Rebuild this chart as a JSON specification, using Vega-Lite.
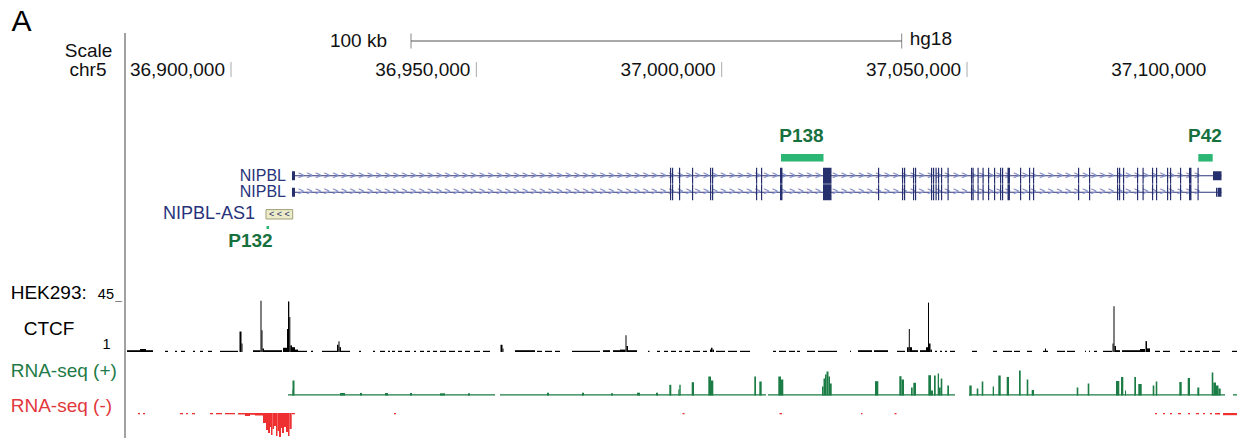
{
"$schema":"https://vega.github.io/schema/vega-lite/v6.json",
"width":1118,"height":438,"autosize":"none",
"padding":{"left":125,"top":0,"right":0,"bottom":0},
"background":"white",
"config":{"view":{"stroke":null},"font":"Liberation Sans","text":{"font":"Liberation Sans","fontSize":19,"color":"#111"}},
"datasets":{
"view":[{"chrom":"chr5","start":36878397,"end":37106245}],
"scalebar":[{"start":36936684,"end":37036684,"label":"100 kb","assembly":"hg18"}],
"ruler":[{"start":36900000,"label":"36,900,000"},{"start":36950000,"label":"36,950,000"},{"start":37000000,"label":"37,000,000"},{"start":37050000,"label":"37,050,000"},{"start":37100000,"label":"37,100,000"}],
"transcripts":[{"tx":"NM_133433","name":"NIPBL","start":36912432,"end":37101864},{"tx":"NM_015384","name":"NIPBL","start":36912432,"end":37101864}],
"exons":[
{"start":36989468,"end":36989708},{"start":36989876,"end":36990116},{"start":36991302,"end":36991542},{"start":36993952,"end":36994192},
{"start":36997620,"end":36997860},{"start":36998028,"end":36998268},{"start":37006995,"end":37007235},{"start":37008014,"end":37008254},
{"start":37011886,"end":37012386},{"start":37020649,"end":37022382},{"start":37031858,"end":37032098},{"start":37036750,"end":37036990},
{"start":37037157,"end":37037397},{"start":37038991,"end":37039231},{"start":37039399,"end":37039639},{"start":37042660,"end":37042900},
{"start":37043067,"end":37043307},{"start":37043577,"end":37043817},{"start":37044086,"end":37044326},{"start":37044698,"end":37044938},
{"start":37046023,"end":37046263},{"start":37050812,"end":37051052},{"start":37051118,"end":37051358},{"start":37052137,"end":37052377},
{"start":37053156,"end":37053396},{"start":37054276,"end":37054516},{"start":37055499,"end":37055739},{"start":37056722,"end":37056962},
{"start":37057130,"end":37057370},{"start":37058251,"end":37058751},{"start":37060798,"end":37061038},{"start":37062632,"end":37062872},
{"start":37063447,"end":37063687},{"start":37072618,"end":37072858},{"start":37074860,"end":37075100},{"start":37080567,"end":37080807},
{"start":37080974,"end":37081214},{"start":37081789,"end":37082029},{"start":37084643,"end":37084883},{"start":37085764,"end":37086004},
{"start":37087700,"end":37087940},{"start":37088515,"end":37088755},{"start":37090757,"end":37090997},{"start":37091368,"end":37091608},
{"start":37093406,"end":37093646},{"start":37095240,"end":37095740},{"start":37096973,"end":37097213}],
"utr":[
{"tx":"NM_133433","start":36912432,"end":36913043},{"tx":"NM_015384","start":36912432,"end":36913043},
{"tx":"NM_133433","start":37100131,"end":37101864},{"tx":"NM_015384","start":37100743,"end":37100983},{"tx":"NM_015384","start":37101058,"end":37101864}],
"as1":[{"name":"NIPBL-AS1","start":36907133,"end":36912574}],
"probes":[{"name":"P132","start":36907235,"end":36907744},{"name":"P138","start":37012090,"end":37020751},{"name":"P42","start":37097136,"end":37100070}],
"ctcf":[
{"start":36878805,"end":36881454,"value":2.5},{"start":36881454,"end":36882677,"value":3.5},{"start":36882677,"end":36884103,"value":2.5},
{"start":36886549,"end":36887160,"value":2},{"start":36888587,"end":36888995,"value":2},{"start":36889810,"end":36890625,"value":2},
{"start":36892255,"end":36892663,"value":2},{"start":36893682,"end":36894293,"value":2},{"start":36895312,"end":36896128,"value":2},
{"start":36897758,"end":36901426,"value":2},{"start":36901732,"end":36902140,"value":18},{"start":36902140,"end":36902344,"value":8},
{"start":36904483,"end":36906012,"value":2.5},{"start":36906012,"end":36906216,"value":43.5},{"start":36906216,"end":36906420,"value":19},
{"start":36906420,"end":36906725,"value":4},{"start":36906725,"end":36910394,"value":2.5},{"start":36910597,"end":36911413,"value":4.5},
{"start":36911413,"end":36911616,"value":20},{"start":36911616,"end":36911881,"value":43},{"start":36911881,"end":36912085,"value":30},
{"start":36912085,"end":36912432,"value":6.5},{"start":36912432,"end":36913043,"value":5},{"start":36913043,"end":36913654,"value":3},
{"start":36913654,"end":36915489,"value":2},{"start":36916304,"end":36916711,"value":2},{"start":36918546,"end":36921603,"value":2},
{"start":36921603,"end":36921908,"value":7},{"start":36921908,"end":36922112,"value":10},{"start":36922112,"end":36922418,"value":5},
{"start":36922418,"end":36924252,"value":2},{"start":36926086,"end":36926494,"value":2},{"start":36928939,"end":36929347,"value":2},
{"start":36930366,"end":36931385,"value":2},{"start":36931996,"end":36932404,"value":2},{"start":36932812,"end":36933423,"value":2},
{"start":36934034,"end":36934850,"value":2},{"start":36935461,"end":36936480,"value":2},{"start":36937295,"end":36937703,"value":2},
{"start":36938518,"end":36939333,"value":2},{"start":36939945,"end":36940556,"value":2},{"start":36941167,"end":36941983,"value":2},
{"start":36942594,"end":36943817,"value":2},{"start":36944428,"end":36945651,"value":2},{"start":36946262,"end":36947078,"value":2},
{"start":36947689,"end":36948708,"value":2},{"start":36949523,"end":36950746,"value":2},{"start":36951357,"end":36952784,"value":2},
{"start":36954924,"end":36955332,"value":7},{"start":36955332,"end":36955535,"value":4},{"start":36957879,"end":36961955,"value":2.5},
{"start":36962363,"end":36963382,"value":2},{"start":36963993,"end":36965420,"value":2},{"start":36966031,"end":36967050,"value":2},
{"start":36969496,"end":36975202,"value":2},{"start":36975813,"end":36977240,"value":2.5},{"start":36977851,"end":36979278,"value":2.5},
{"start":36979278,"end":36980399,"value":3},{"start":36980399,"end":36980603,"value":15},{"start":36980603,"end":36980908,"value":6},
{"start":36980908,"end":36982743,"value":2.5},{"start":36984984,"end":36985290,"value":2},{"start":36986819,"end":36987430,"value":2},
{"start":36988245,"end":36989060,"value":2},{"start":36989672,"end":36990691,"value":2},{"start":36991302,"end":36991914,"value":2},
{"start":36992525,"end":36993544,"value":2},{"start":36994155,"end":36995582,"value":2},{"start":36996193,"end":36997009,"value":2},
{"start":36997620,"end":36997824,"value":3},{"start":36997824,"end":36998130,"value":4.5},{"start":36998130,"end":36998435,"value":3},
{"start":36998843,"end":37000677,"value":2},{"start":37001288,"end":37003123,"value":2},{"start":37003734,"end":37005772,"value":2},
{"start":37010459,"end":37011071,"value":2},{"start":37011682,"end":37013109,"value":2},{"start":37013720,"end":37014943,"value":2},
{"start":37015351,"end":37015962,"value":2},{"start":37017389,"end":37019019,"value":2},{"start":37019630,"end":37023503,"value":2},
{"start":37026152,"end":37026356,"value":2},{"start":37027782,"end":37030636,"value":2.5},{"start":37031043,"end":37033896,"value":2.5},
{"start":37035731,"end":37037361,"value":2},{"start":37037769,"end":37038135,"value":5},{"start":37038135,"end":37038339,"value":20},
{"start":37038339,"end":37038788,"value":5},{"start":37038788,"end":37040010,"value":2.5},{"start":37040418,"end":37041641,"value":2.5},
{"start":37041641,"end":37042048,"value":5},{"start":37042048,"end":37042252,"value":42},{"start":37042252,"end":37042558,"value":8},
{"start":37042558,"end":37042864,"value":3},{"start":37043475,"end":37043883,"value":2},{"start":37044494,"end":37044902,"value":2},
{"start":37045513,"end":37045921,"value":2},{"start":37046532,"end":37047551,"value":2},{"start":37051016,"end":37052035,"value":2},
{"start":37055295,"end":37056111,"value":2},{"start":37057333,"end":37059168,"value":2},{"start":37059575,"end":37060798,"value":2},
{"start":37062225,"end":37063244,"value":2},{"start":37065485,"end":37065893,"value":2},{"start":37065893,"end":37066097,"value":4},
{"start":37066097,"end":37066504,"value":2},{"start":37068339,"end":37069969,"value":2},{"start":37070377,"end":37072007,"value":2},
{"start":37074045,"end":37074249,"value":2},{"start":37074860,"end":37075064,"value":2},{"start":37075879,"end":37076491,"value":2},
{"start":37077713,"end":37079548,"value":2},{"start":37079650,"end":37079853,"value":8},{"start":37079853,"end":37080057,"value":39},
{"start":37080057,"end":37080363,"value":6},{"start":37080363,"end":37081178,"value":2.5},{"start":37081586,"end":37085254,"value":2.5},
{"start":37085254,"end":37086273,"value":3.5},{"start":37086375,"end":37086681,"value":10},{"start":37086681,"end":37087292,"value":4},
{"start":37088311,"end":37089330,"value":2},{"start":37089941,"end":37091368,"value":2},{"start":37093406,"end":37094425,"value":2},
{"start":37095036,"end":37095852,"value":2},{"start":37096463,"end":37097482,"value":2},{"start":37098093,"end":37099316,"value":2},
{"start":37099928,"end":37101558,"value":2},{"start":37104004,"end":37105023,"value":2}],
"rnaPlus":[
{"start":36911616,"end":36953803,"value":1.3},{"start":36954822,"end":37009033,"value":1.3},{"start":37009440,"end":37047551,"value":1.3},
{"start":37050404,"end":37102577,"value":1.3},{"start":37104207,"end":37105023,"value":1.3},
{"start":36922214,"end":36923233,"value":2.5},{"start":36926290,"end":36926698,"value":2.5},{"start":36931385,"end":36931996,"value":2.5},
{"start":36936480,"end":36936888,"value":2.5},{"start":36942594,"end":36943613,"value":2.2},{"start":36948300,"end":36948708,"value":2.2},
{"start":36964401,"end":36964808,"value":2.8},{"start":36971534,"end":36971941,"value":2.8},{"start":36977444,"end":36977851,"value":2.2},
{"start":36982743,"end":36983354,"value":2.8},{"start":36986615,"end":36987022,"value":2.8},
{"start":36912432,"end":36912534,"value":6},{"start":36912534,"end":36912941,"value":15},{"start":36989325,"end":36989733,"value":10.7},
{"start":36991160,"end":36991363,"value":6},{"start":36991363,"end":36991649,"value":10.7},{"start":36993890,"end":36994359,"value":13.3},
{"start":36997274,"end":36997824,"value":19},{"start":36997824,"end":36998293,"value":15},{"start":37006648,"end":37006995,"value":19},
{"start":37007667,"end":37008156,"value":14},{"start":37011540,"end":37012090,"value":19},{"start":37012090,"end":37012559,"value":16},
{"start":37020446,"end":37020751,"value":9},{"start":37020751,"end":37021057,"value":17},{"start":37021057,"end":37021363,"value":21},
{"start":37021363,"end":37021770,"value":24},{"start":37021770,"end":37022076,"value":19},{"start":37022076,"end":37022422,"value":12},
{"start":37031247,"end":37031920,"value":14.3},{"start":37036199,"end":37036648,"value":19.3},{"start":37036648,"end":37037157,"value":16},
{"start":37038584,"end":37038930,"value":8},{"start":37039053,"end":37039603,"value":12.7},{"start":37042110,"end":37042660,"value":20.3},
{"start":37042660,"end":37043067,"value":5},{"start":37043271,"end":37043618,"value":20},{"start":37044025,"end":37044290,"value":22},
{"start":37044290,"end":37044637,"value":8},{"start":37044637,"end":37044963,"value":17},{"start":37045982,"end":37046328,"value":10},
{"start":37050465,"end":37050954,"value":10},{"start":37051973,"end":37052300,"value":7},{"start":37052992,"end":37053319,"value":14},
{"start":37055234,"end":37055499,"value":9},{"start":37056376,"end":37056865,"value":20},{"start":37058087,"end":37058556,"value":18.5},
{"start":37060594,"end":37060941,"value":25},{"start":37062163,"end":37062490,"value":16},{"start":37063182,"end":37063651,"value":5.5},
{"start":37072353,"end":37072680,"value":8},{"start":37074595,"end":37074921,"value":12},{"start":37080363,"end":37081035,"value":14.5},
{"start":37081382,"end":37081850,"value":18.5},{"start":37082197,"end":37082401,"value":5},{"start":37084092,"end":37084439,"value":18.5},
{"start":37084908,"end":37085601,"value":11.5},{"start":37087842,"end":37088168,"value":10},{"start":37088454,"end":37088780,"value":14},
{"start":37093263,"end":37093753,"value":13.5},{"start":37094975,"end":37095444,"value":17.5},{"start":37096932,"end":37097339,"value":8},
{"start":37099867,"end":37100193,"value":23},{"start":37100193,"end":37100743,"value":13},{"start":37100743,"end":37101252,"value":10},
{"start":37101252,"end":37101701,"value":7}],
"rnaMinus":[
{"start":36881046,"end":36881454,"value":-1.3},{"start":36882065,"end":36882473,"value":-1.3},{"start":36889606,"end":36890217,"value":-1.3},
{"start":36890829,"end":36891236,"value":-1.3},{"start":36892052,"end":36892663,"value":-1.3},{"start":36895720,"end":36896331,"value":-1.3},
{"start":36896943,"end":36898166,"value":-1.3},{"start":36898777,"end":36900815,"value":-1.3},{"start":36901426,"end":36902853,"value":-1.5},
{"start":36902853,"end":36903872,"value":-3},{"start":36903872,"end":36904891,"value":-1.8},{"start":36904891,"end":36906521,"value":-2.5},
{"start":36906521,"end":36907133,"value":-10},{"start":36907133,"end":36907540,"value":-17},{"start":36907540,"end":36907948,"value":-20},
{"start":36907948,"end":36908152,"value":-14},{"start":36908152,"end":36908458,"value":-22},{"start":36908458,"end":36908763,"value":-16},
{"start":36908763,"end":36909171,"value":-13},{"start":36909171,"end":36909477,"value":-23},{"start":36909477,"end":36909782,"value":-18},
{"start":36909782,"end":36910190,"value":-24},{"start":36910190,"end":36910394,"value":-15},{"start":36910394,"end":36910801,"value":-20},
{"start":36910801,"end":36911209,"value":-14},{"start":36911209,"end":36911616,"value":-19},{"start":36911616,"end":36911921,"value":-23},
{"start":36911921,"end":36912369,"value":-16},{"start":36912432,"end":36913043,"value":-1.3},{"start":36933219,"end":36933627,"value":-1.3},
{"start":36992016,"end":36992423,"value":-1.3},{"start":37011784,"end":37012294,"value":-1.3},{"start":37028394,"end":37028700,"value":-1.3},
{"start":37035221,"end":37035629,"value":-1.3},{"start":37088311,"end":37088719,"value":-1.3},{"start":37089941,"end":37090349,"value":-1.3},
{"start":37091368,"end":37091776,"value":-1.3},{"start":37092998,"end":37093610,"value":-1.3},{"start":37095036,"end":37095444,"value":-1.3},
{"start":37096667,"end":37097278,"value":-1.3},{"start":37098093,"end":37098501,"value":-1.3},{"start":37099520,"end":37099928,"value":-1.3},
{"start":37100539,"end":37101558,"value":-1.5},{"start":37102169,"end":37105023,"value":-2.2}]
},
"encoding":{"x":{"field":"start","type":"quantitative","scale":{"domain":[36878397,37106245],"nice":false,"zero":false},"axis":null}},
"resolve":{"scale":{"y":"independent"}},
"layer":[
{"data":{"name":"view"},"mark":{"type":"rule","color":"#444","strokeWidth":1},
 "encoding":{"y":{"datum":0,"type":"quantitative","scale":{"domain":[0,1],"range":[33,438]},"axis":null},"y2":{"datum":1}}},
{"layer":[
 {"data":{"name":"view"},"mark":{"type":"text","text":"A","fontSize":30,"align":"center","baseline":"middle","dx":-103.5,"color":"#000"},
  "encoding":{"y":{"datum":"panel","type":"nominal","scale":{"type":"point","domain":["panel","gap1","scalebar","name","gap2","coords"],"range":[22,69.5],"padding":0},"axis":null}}},
 {"data":{"name":"view"},"mark":{"type":"text","text":"Scale","align":"center","baseline":"middle","dx":-36.5},"encoding":{"y":{"datum":"name","type":"nominal","axis":null}}},
 {"data":{"name":"view"},"mark":{"type":"text","text":"chr5","align":"center","baseline":"middle","dx":-37},"encoding":{"y":{"datum":"coords","type":"nominal","axis":null}}},
 {"data":{"name":"scalebar"},"mark":{"type":"rule","color":"#555","strokeWidth":1},"encoding":{"x2":{"field":"end"},"y":{"datum":"scalebar","type":"nominal","axis":null}}},
 {"data":{"name":"scalebar"},"mark":{"type":"tick","color":"#555","size":15,"thickness":1},"encoding":{"y":{"datum":"scalebar","type":"nominal","axis":null}}},
 {"data":{"name":"scalebar"},"mark":{"type":"tick","color":"#555","size":15,"thickness":1},"encoding":{"x":{"field":"end","type":"quantitative","axis":null},"y":{"datum":"scalebar","type":"nominal","axis":null}}},
 {"data":{"name":"scalebar"},"mark":{"type":"text","align":"right","baseline":"middle","dx":-24},"encoding":{"text":{"field":"label","type":"nominal"},"y":{"datum":"scalebar","type":"nominal","axis":null}}},
 {"data":{"name":"scalebar"},"mark":{"type":"text","align":"left","baseline":"middle","dx":8,"dy":-2},"encoding":{"x":{"field":"end","type":"quantitative","axis":null},"text":{"field":"assembly","type":"nominal"},"y":{"datum":"scalebar","type":"nominal","axis":null}}},
 {"data":{"name":"ruler"},"transform":[{"filter":"datum.start < 37100000"}],"mark":{"type":"tick","color":"#888","size":15,"thickness":1},"encoding":{"y":{"datum":"coords","type":"nominal","axis":null}}},
 {"data":{"name":"ruler"},"mark":{"type":"text","align":"right","baseline":"middle","dx":-6},"encoding":{"text":{"field":"label","type":"nominal"},"y":{"datum":"coords","type":"nominal","axis":null}}}
]},
{"layer":[
 {"data":{"name":"probes"},"transform":[{"filter":"datum.name != 'P132'"}],"mark":{"type":"bar","size":7.5,"color":"#2cb673"},
  "encoding":{"x2":{"field":"end"},"y":{"datum":"bar","type":"nominal","scale":{"type":"point","domain":["label","bar"],"range":[136,157.8],"padding":0},"axis":null}}},
 {"data":{"name":"probes"},"transform":[{"filter":"datum.name == 'P138'"}],"mark":{"type":"text","align":"center","baseline":"middle","dx":20.5,"fontWeight":"bold","color":"#17713f"},
  "encoding":{"text":{"field":"name","type":"nominal"},"y":{"datum":"label","type":"nominal","axis":null}}},
 {"data":{"name":"probes"},"transform":[{"filter":"datum.name == 'P42'"}],"mark":{"type":"text","align":"center","baseline":"middle","dx":6.7,"fontWeight":"bold","color":"#17713f"},
  "encoding":{"text":{"field":"name","type":"nominal"},"y":{"datum":"label","type":"nominal","axis":null}}}
]},
{"layer":[
 {"data":{"name":"transcripts"},"mark":{"type":"rule","color":"#2b3478","strokeWidth":1},
  "encoding":{"x2":{"field":"end"},"y":{"field":"tx","type":"nominal","scale":{"type":"band","domain":["NM_133433","NM_015384"],"range":[167.5,200.5],"paddingInner":0.03,"paddingOuter":0.015},"axis":null}}},
 {"data":{"name":"transcripts"},"mark":{"type":"text","text":"> > > > > > > > > > > > > > > > > > > > > > > > > > > > > > > > > > > > > > > > > > > > > > > > > > > > > > > > > > > > > > > > > > > > > > > > > > > > > > > > > > > > > > > > > > > > > > > > > > > > > > > > > > > > > > > > > > > > > > > > > > >","font":"Liberation Sans","fontSize":10,"fontWeight":"bold","align":"left","baseline":"middle","dx":6,"color":"#8a90c8","limit":913,"ellipsis":" "},
  "encoding":{"y":{"field":"tx","type":"nominal","axis":null}}},
 {"data":{"name":"exons"},"mark":{"type":"bar","color":"#27306e"},"encoding":{"x2":{"field":"end"},"y":{"datum":"NM_133433","type":"nominal","axis":null}}},
 {"data":{"name":"exons"},"mark":{"type":"bar","color":"#27306e"},"encoding":{"x2":{"field":"end"},"y":{"datum":"NM_015384","type":"nominal","axis":null}}},
 {"data":{"name":"utr"},"mark":{"type":"bar","size":9,"color":"#27306e"},"encoding":{"x2":{"field":"end"},"y":{"field":"tx","type":"nominal","axis":null}}},
 {"data":{"name":"transcripts"},"mark":{"type":"text","align":"right","baseline":"middle","dx":-6,"fontSize":16,"color":"#27337a"},
  "encoding":{"text":{"field":"name","type":"nominal"},"y":{"field":"tx","type":"nominal","axis":null}}}
]},
{"layer":[
 {"data":{"name":"as1"},"mark":{"type":"bar","size":9.4,"fill":"#ececc9","stroke":"#a0a07a","strokeWidth":1},
  "encoding":{"x2":{"field":"end"},"y":{"datum":"AS1","type":"nominal","scale":{"type":"point","domain":["AS1","P132","P132label"],"range":[214.3,240.8],"padding":0},"axis":null}}},
 {"data":{"name":"as1"},"mark":{"type":"text","text":"< < <","fontSize":9,"align":"center","baseline":"middle","dx":13.3,"color":"#2a2f6a"},"encoding":{"y":{"datum":"AS1","type":"nominal","axis":null}}},
 {"data":{"name":"as1"},"mark":{"type":"text","align":"right","baseline":"middle","dx":-11,"fontSize":18,"color":"#27337a"},"encoding":{"text":{"field":"name","type":"nominal"},"y":{"datum":"AS1","type":"nominal","axis":null}}},
 {"data":{"name":"probes"},"transform":[{"filter":"datum.name == 'P132'"}],"mark":{"type":"bar","size":3,"color":"#2cb673"},"encoding":{"x2":{"field":"end"},"y":{"datum":"P132","type":"nominal","axis":null}}},
 {"data":{"name":"probes"},"transform":[{"filter":"datum.name == 'P132'"}],"mark":{"type":"text","align":"center","baseline":"middle","dx":-16,"fontWeight":"bold","color":"#17713f"},
  "encoding":{"text":{"field":"name","type":"nominal"},"y":{"datum":"P132label","type":"nominal","axis":null}}}
]},
{"layer":[
 {"data":{"name":"ctcf"},"mark":{"type":"rect","color":"#000"},
  "encoding":{"x2":{"field":"end"},"y":{"field":"value","type":"quantitative","scale":{"domain":[1,45],"range":[352,299],"nice":false,"zero":false},"axis":null},"y2":{"datum":1}}},
 {"data":{"name":"view"},"mark":{"type":"text","text":"HEK293:","align":"left","baseline":"alphabetic","dx":-114.3,"color":"#000"},"encoding":{"y":{"datum":45,"type":"quantitative","axis":null}}},
 {"data":{"name":"view"},"mark":{"type":"text","text":"45","fontSize":14.5,"align":"right","baseline":"alphabetic","dx":-11,"color":"#000"},"encoding":{"y":{"datum":45,"type":"quantitative","axis":null}}},
 {"data":{"name":"view"},"mark":{"type":"text","text":"_","fontSize":12,"align":"right","baseline":"alphabetic","dx":-3,"color":"#777"},"encoding":{"y":{"datum":45,"type":"quantitative","axis":null}}},
 {"data":{"name":"view"},"mark":{"type":"text","text":"CTCF","align":"center","baseline":"alphabetic","dx":-76,"color":"#000"},"encoding":{"y":{"datum":15.1,"type":"quantitative","axis":null}}},
 {"data":{"name":"view"},"mark":{"type":"text","text":"1","fontSize":14.5,"align":"right","baseline":"alphabetic","dx":-14.3,"color":"#000"},"encoding":{"y":{"datum":3.2,"type":"quantitative","axis":null}}}
]},
{"layer":[
 {"data":{"name":"rnaPlus"},"mark":{"type":"rect","color":"#1b7d45"},
  "encoding":{"x2":{"field":"end"},"y":{"field":"value","type":"quantitative","scale":{"domain":[0,30],"range":[395.5,365.5],"nice":false,"zero":false},"axis":null},"y2":{"datum":0}}},
 {"data":{"name":"view"},"mark":{"type":"text","text":"RNA-seq (+)","align":"left","baseline":"alphabetic","dx":-114.3,"color":"#1e7a46"},"encoding":{"y":{"datum":18.8,"type":"quantitative","axis":null}}}
]},
{"layer":[
 {"data":{"name":"rnaMinus"},"mark":{"type":"rect","color":"#ef3030"},
  "encoding":{"x2":{"field":"end"},"y":{"field":"value","type":"quantitative","scale":{"domain":[-30,0],"range":[443,413],"nice":false,"zero":false},"axis":null},"y2":{"datum":0}}},
 {"data":{"name":"view"},"mark":{"type":"text","text":"RNA-seq (-)","align":"left","baseline":"alphabetic","dx":-114.3,"color":"#e2383c"},"encoding":{"y":{"datum":0.7,"type":"quantitative","axis":null}}}
]}
]
}
